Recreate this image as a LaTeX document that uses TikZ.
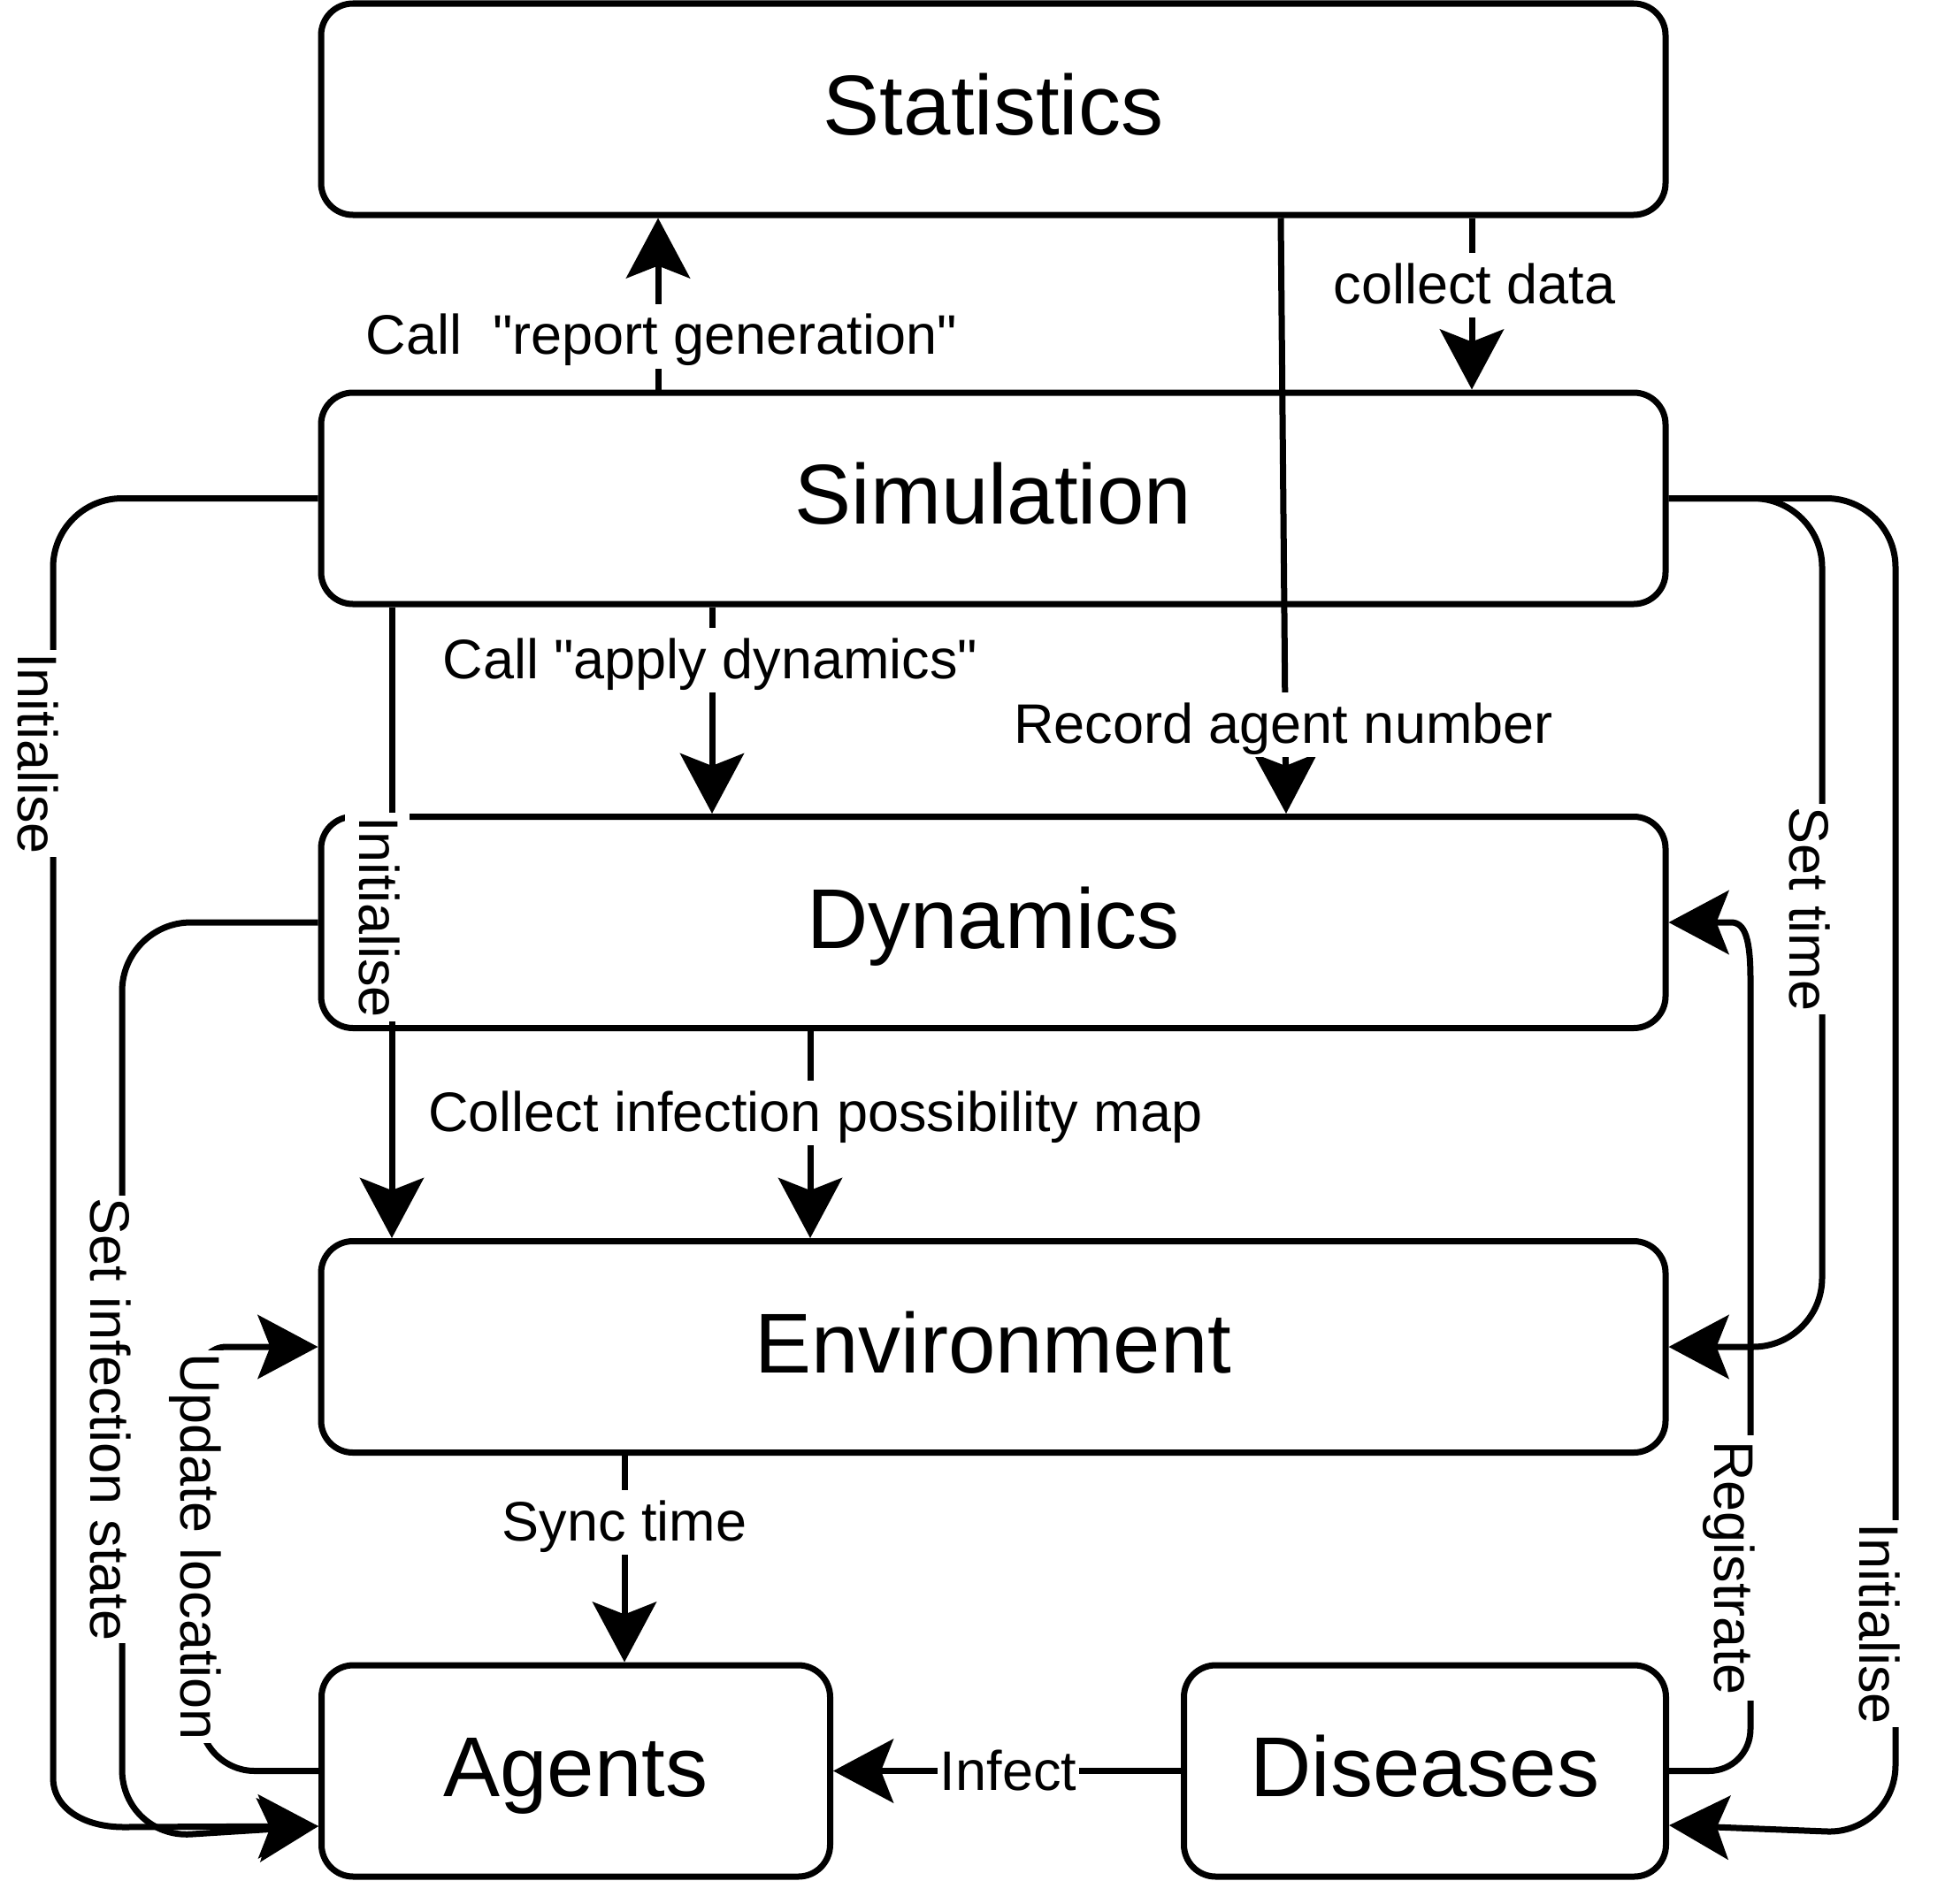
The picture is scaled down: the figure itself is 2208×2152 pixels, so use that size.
\documentclass[tikz,border=0pt]{standalone}
\usepackage{fontspec}
\setmainfont{Liberation Sans}
\newfontfamily\plainsans{Liberation Sans}
\usetikzlibrary{arrows.meta}
\begin{document}
\begin{tikzpicture}[x=1pt,y=-1pt,
  box/.style={draw, line width=7pt, rounded corners=36pt, fill=white, inner sep=0pt,
    minimum height=239pt, text height=80pt, text depth=22pt,
    font=\fontsize{96}{110}\selectfont},
  edge/.style={line width=7pt, -{Stealth[length=68pt,width=72pt,inset=14pt]}},
  lbl/.style={fill=white, inner xsep=3pt, inner ysep=0pt, text height=57pt,
    text depth=16pt, font=\plainsans\fontsize{63}{75}\selectfont, anchor=base},
  vlbl/.style={lbl, rotate=-90}]
\useasboundingbox (0,0) rectangle (2208,2152);

% boxes
\node[box, minimum width=1520pt] (stats) at (1123,123.5) {Statistics};
\node[box, minimum width=1520pt] (sim) at (1123,563.5) {Simulation};
\node[box, minimum width=1520pt] (dyn) at (1123,1043) {Dynamics};
\node[box, minimum width=1520pt] (env) at (1123,1523) {Environment};
\node[box, minimum width=575pt] (agents) at (651,2002.5) {Agents};
\node[box, minimum width=545pt] (dis) at (1611,2002.5) {Diseases};

% helper coordinates
\coordinate (xrep) at (744,0);
\coordinate (xcol) at (1664,0);
\coordinate (xrecA) at (1448,0);
\coordinate (xrecB) at (1454,0);
\coordinate (xapp) at (805,0);
\coordinate (xini) at (443,0);
\coordinate (xinf) at (916,0);
\coordinate (xsync) at (706,0);
\coordinate (xL) at (60,0);
\coordinate (xSI) at (138,0);
\coordinate (xST) at (2060,0);
\coordinate (xR) at (2143,0);
\coordinate (ytipL) at (0,2065);
\coordinate (ytipR) at (0,2064);

% straight edges
\draw[edge] (sim.north -| xrep) -- (stats.south -| xrep);
\draw[edge] (stats.south -| xcol) -- (sim.north -| xcol);
\draw[edge] (stats.south -| xrecA) -- (dyn.north -| xrecB);
\draw[edge] (sim.south -| xapp) -- (dyn.north -| xapp);
\draw[edge] (sim.south -| xini) -- (env.north -| xini);
\draw[edge] (dyn.south -| xinf) -- (env.north -| xinf);
\draw[edge] (env.south -| xsync) -- (agents.north -| xsync);
\draw[edge] (dis.west) -- (agents.east);

% left side edges
\draw[edge] (sim.west) -- (138,563.5) .. controls (95,563.5) and (60,598.5) .. (60,641.5)
  -- (60,2010) .. controls (60,2045) and (95,2066) .. (140,2066) -- (agents.west |- ytipL);
\draw[edge, rounded corners=78pt] (dyn.west) -- (dyn.west -| xSI) -- (138,2079) -- (agents.west |- ytipL);
\draw[edge] (agents.west) -- (288,2002.5) .. controls (254,2002.5) and (226,1974.5) .. (226,1940.5)
  -- (226,1553) .. controls (226,1536.4) and (239.4,1523) .. (256,1523) -- (env.west);

% right side edges
\draw[edge, rounded corners=78pt] (sim.east) -- (sim.east -| xST) -- (xST |- env.east) -- (env.east);
\draw[edge, rounded corners=78pt] (sim.east) -- (sim.east -| xR) -- (2143,2074) -- (dis.east |- ytipR);
\draw[edge] (dis.east) -- (1932,2002.5) .. controls (1958,2002.5) and (1979,1982) .. (1979,1955)
  -- (1979,1108) .. controls (1979,1062) and (1973,1043) .. (1957,1043) -- (dyn.east);

% labels
\node[lbl] (l1) at (748,400.5) {Call\ \ "report generation"};
\node[lbl] (l2) at (1667,343) {collect data};
\node[lbl] (l3) at (803,767) {Call "apply dynamics"};
\node[lbl] (l4) at (1451,840) {Record agent number};
\node[lbl] (l5) at (922,1279) {Collect infection possibility map};
\node[lbl] (l6) at (706,1742) {Sync time};
\node[lbl] (l7) at (1140,2024) {Infect};

\node[vlbl] (l8) at (20,852) {Initialise};
\node[vlbl, inner xsep=4.5pt] (l9) at (406,1037) {Initialise};
\node[vlbl] (l10) at (102,1605) {Set infection state};
\node[vlbl] (l11) at (204,1749) {Update location};
\node[vlbl] (l12) at (2023,1028) {Set time};
\node[vlbl, inner xsep=6pt] (l13) at (1938,1773) {Registrate};
\node[vlbl] (l14) at (2102,1836) {Initialise};
\end{tikzpicture}
\end{document}
